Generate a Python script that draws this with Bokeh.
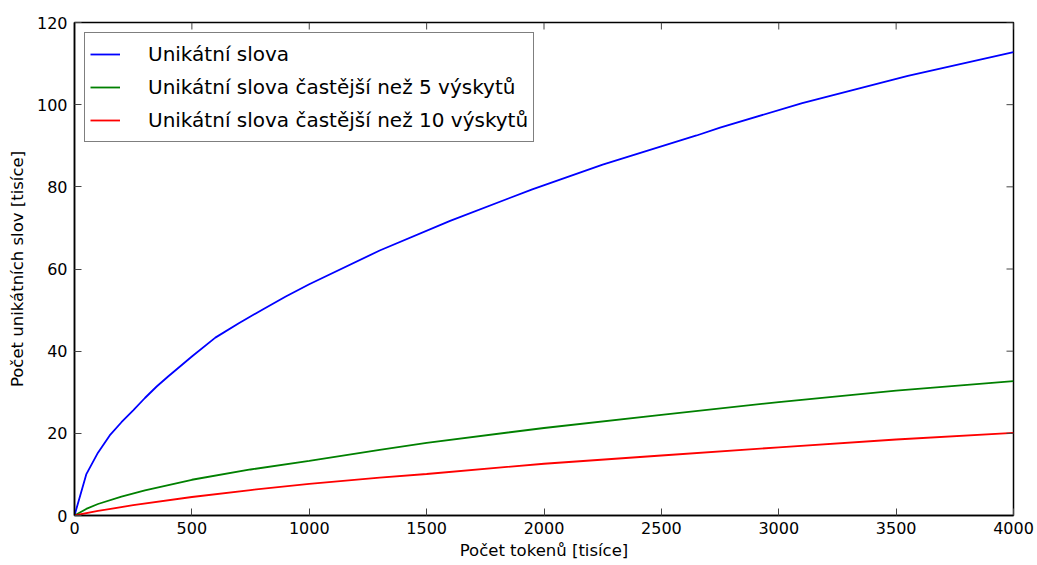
from bokeh.plotting import figure
from bokeh.models import FixedTicker, Range1d, Legend, LegendItem
from bokeh.embed import file_html
from bokeh.resources import INLINE

# Data (thousands)
x_all = [0, 50, 100, 150, 200, 250, 300, 350, 400, 500, 600, 700, 800, 900, 1000, 1300, 1600, 1950, 2250, 2650, 2750, 3100, 3550, 4000]
y_all = [0, 10.0, 15.3, 19.5, 22.7, 25.6, 28.6, 31.4, 33.9, 38.7, 43.3, 46.8, 50.1, 53.3, 56.3, 64.5, 71.7, 79.4, 85.4, 92.5, 94.4, 100.4, 107.0, 112.8]

x_gt5 = [0, 50, 100, 200, 300, 500, 750, 1000, 1300, 1500, 2000, 2500, 3000, 3500, 4000]
y_gt5 = [0, 1.6, 2.8, 4.6, 6.1, 8.7, 11.2, 13.3, 16.0, 17.7, 21.3, 24.5, 27.6, 30.4, 32.7]

x_gt10 = [0, 100, 250, 500, 750, 1000, 1300, 1500, 2000, 2500, 3000, 3500, 4000]
y_gt10 = [0, 1.1, 2.5, 4.5, 6.2, 7.7, 9.2, 10.1, 12.6, 14.6, 16.6, 18.5, 20.1]

labels = ["Unikátní slova",
          "Unikátní slova častější než 5 výskytů",
          "Unikátní slova častější než 10 výskytů"]
colors = ["#0000ff", "#008000", "#ff0000"]

x_ticks = [0, 500, 1000, 1500, 2000, 2500, 3000, 3500, 4000]
y_ticks = [0, 20, 40, 60, 80, 100, 120]

FONT = "DejaVu Sans"
X0, X1, Y0, Y1 = 0, 4000, 0, 120
W, H = 1037, 565
BL, BR, BT, BB = 74, 24, 22, 50
TICK_PX = 7

p = figure(width=W, height=H, output_backend="svg", toolbar_location=None,
           x_range=Range1d(X0, X1), y_range=Range1d(Y0, Y1),
           min_border_left=BL, min_border_right=BR, min_border_top=BT, min_border_bottom=BB)
p.xgrid.visible = False
p.ygrid.visible = False
p.outline_line_color = "black"
p.outline_line_width = 1.5
p.background_fill_color = "white"
p.border_fill_color = "white"

r1 = p.line(x_all, y_all, line_color=colors[0], line_width=1.8)
r2 = p.line(x_gt5, y_gt5, line_color=colors[1], line_width=1.8)
r3 = p.line(x_gt10, y_gt10, line_color=colors[2], line_width=1.8)

# inward ticks on top and right edges (matplotlib classic look)
plot_w = W - BL - BR
plot_h = H - BT - BB
dy = TICK_PX * (Y1 - Y0) / plot_h
dx = TICK_PX * (X1 - X0) / plot_w
p.segment(x0=x_ticks, y0=[Y1] * len(x_ticks), x1=x_ticks, y1=[Y1 - dy] * len(x_ticks),
          line_color="#444444", line_width=1)
p.segment(x0=[X1] * len(y_ticks), y0=y_ticks, x1=[X1 - dx] * len(y_ticks), y1=y_ticks,
          line_color="#444444", line_width=1)

def style(ax):
    ax.axis_line_color = "black"
    ax.axis_line_width = 1.5
    ax.major_tick_in = TICK_PX
    ax.major_tick_out = 0
    ax.major_tick_line_color = "#444444"
    ax.minor_tick_line_color = None
    ax.major_label_text_font = FONT
    ax.major_label_text_font_size = "16px"
    ax.major_label_text_color = "black"
    ax.axis_label_text_font = FONT
    ax.axis_label_text_font_size = "16.5px"
    ax.axis_label_text_font_style = "normal"
    ax.axis_label_text_color = "black"

p.xaxis.ticker = FixedTicker(ticks=x_ticks)
p.yaxis.ticker = FixedTicker(ticks=y_ticks)
p.xaxis.axis_label = "Počet tokenů [tisíce]"
p.yaxis.axis_label = "Počet unikátních slov [tisíce]"
style(p.xaxis[0])
style(p.yaxis[0])
p.xaxis.major_label_standoff = 6
p.yaxis.major_label_standoff = 7
p.xaxis.axis_label_standoff = 4
p.yaxis.axis_label_standoff = 7

legend = Legend(items=[LegendItem(label=labels[0], renderers=[r1]),
                       LegendItem(label=labels[1], renderers=[r2]),
                       LegendItem(label=labels[2], renderers=[r3])],
                location="top_left")
legend.margin = 10
legend.padding = 5
legend.spacing = 1
legend.glyph_width = 30
legend.glyph_height = 32
legend.label_height = 32
legend.label_standoff = 28
legend.label_text_font = FONT
legend.label_text_font_size = "20px"
legend.label_text_color = "black"
legend.border_line_color = "black"
legend.border_line_width = 1.5
legend.background_fill_alpha = 1.0
p.add_layout(legend, "center")

open("out.html", "w").write(file_html(p, INLINE))
